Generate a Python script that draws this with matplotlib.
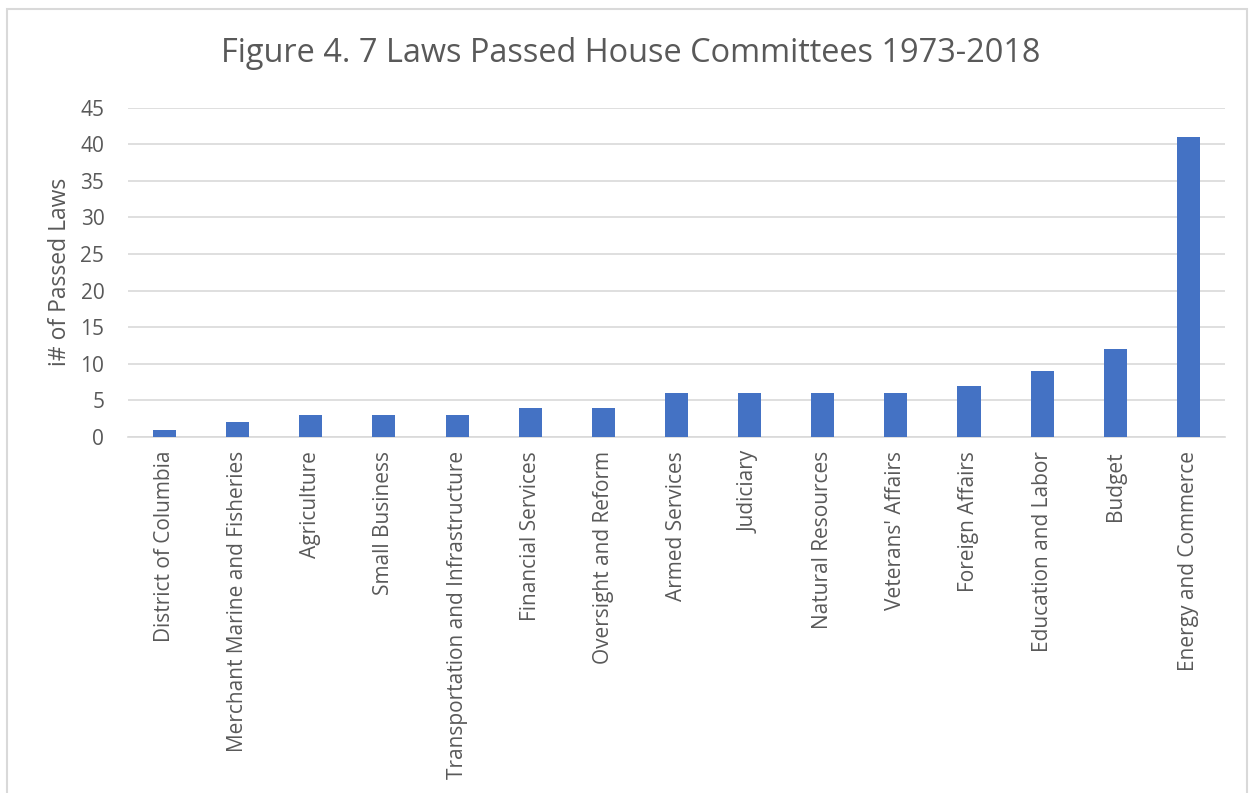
import numpy as np
import matplotlib.pyplot as plt

committees = ["District of Columbia", "Merchant Marine and Fisheries", "Agriculture",
              "Small Business", "Transportation and Infrastructure", "Financial Services",
              "Oversight and Reform", "Armed Services", "Judiciary", "Natural Resources",
              "Veterans' Affairs", "Foreign Affairs", "Education and Labor", "Budget",
              "Energy and Commerce"]
passed_laws = [1, 2, 3, 3, 3, 4, 4, 6, 6, 6, 6, 7, 9, 12, 41]

plt.rcParams['font.family'] = ['Open Sans', 'DejaVu Sans']
text_color = "#595959"

fig = plt.figure(figsize=(12.52, 7.93), dpi=100)
ax = fig.add_axes([0.1022, 0.4489, 0.8762, 0.4155])

x = np.arange(len(committees))
ax.bar(x, passed_laws, width=0.315, color="#4472C4", zorder=3)

ax.set_xlim(-0.5, len(committees) - 0.5)
ax.set_ylim(0, 45)
ax.set_yticks(np.arange(0, 46, 5))
ax.set_xticks(x)
ax.set_xticklabels(committees, rotation=90, fontsize=15, color=text_color)
ax.tick_params(axis="y", labelsize=15, colors=text_color, length=0, pad=17)
ax.tick_params(axis="x", length=0, pad=10)
ax.grid(axis="y", color="#d9d9d9", linewidth=1.2, zorder=0)
for side in ["top", "right", "left"]:
    ax.spines[side].set_visible(False)
ax.spines["bottom"].set_color("#d9d9d9")
ax.spines["bottom"].set_linewidth(1.2)

ax.set_ylabel("i# of Passed Laws", fontsize=16.5, color=text_color, labelpad=6)
fig.text(0.504, 0.933, "Figure 4. 7 Laws Passed House Committees 1973-2018",
         ha="center", va="center", fontsize=23.4, color=text_color)

# light frame round the chart area
frame = plt.Rectangle((7 / 1252, -0.01), 1 - 12 / 1252, 1 - 9 / 793 + 0.01,
                      transform=fig.transFigure, fill=False,
                      edgecolor="#d9d9d9", linewidth=1.5)
fig.add_artist(frame)

fig.savefig("out.png", dpi=100)
